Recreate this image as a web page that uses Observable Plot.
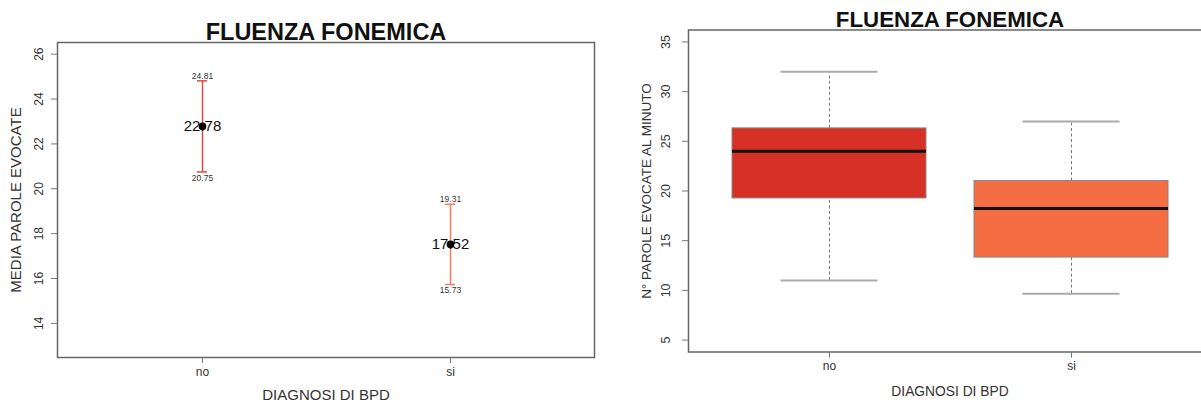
<!DOCTYPE html>
<html>
<head>
<meta charset="utf-8">
<script src="https://cdn.jsdelivr.net/npm/d3@7"></script>
<script src="https://cdn.jsdelivr.net/npm/@observablehq/plot@0.6"></script>
<style>
  html, body { margin: 0; padding: 0; background: #fff; }
  #wrap { display: flex; width: 1201px; height: 403px; overflow: hidden; }
  #left { width: 600px; height: 403px; flex: none; }
  #right { width: 601px; height: 403px; overflow: hidden; flex: none; }
  svg { display: block; max-width: none !important; }
</style>
</head>
<body>
<div id="wrap"><div id="left"></div><div id="right"></div></div>
<script>
// ---- data ----
const title = "FLUENZA FONEMICA";
const xTitle = "DIAGNOSI DI BPD";
const yTitleMeans = "MEDIA PAROLE EVOCATE";
const yTitleBox = "N° PAROLE EVOCATE AL MINUTO";
const categories = ["no", "si"];
// left: means with confidence interval
const means = [22.78, 17.52];
const lowerCI = [20.75, 15.73];
const upperCI = [24.81, 19.31];
const meanTicks = [14, 16, 18, 20, 22, 24, 26];
// right: boxplot stats
const boxMin = [11, 9.67];
const boxQ1 = [19.25, 13.3];
const boxMedian = [24, 18.25];
const boxQ3 = [26.3, 21];
const boxMax = [32, 27];
const boxTicks = [5, 10, 15, 20, 25, 30, 35];
const boxColors = ["#d73027", "#f46d43"];
const barColors = ["#e4483e", "#f47d5a"];

const fmt = d3.format(".2f");
const meanData = categories.map((c, i) => ({cat: c, mean: means[i], lo: lowerCI[i], hi: upperCI[i], col: barColors[i]}));
const boxData = categories.map((c, i) => ({cat: c, min: boxMin[i], q1: boxQ1[i], med: boxMedian[i], q3: boxQ3[i], max: boxMax[i], col: boxColors[i]}));
const font = "'Liberation Sans', Arial, Helvetica, sans-serif";

// ---- left panel ----
const left = Plot.plot({
  width: 600, height: 403,
  marginLeft: 57, marginRight: 6, marginTop: 42, marginBottom: 46,
  style: {fontFamily: font, background: "#fff", overflow: "visible", maxWidth: "none"},
  x: {type: "band", domain: categories, paddingInner: 0.96, paddingOuter: 0.56, axis: null},
  y: {domain: [12.48, 26.52], axis: null},
  marks: [
    Plot.frame({stroke: "#666", strokeWidth: 1.5}),
    Plot.axisY({ticks: meanTicks, tickSize: 6, tickRotate: -90, tickPadding: 9, fontSize: 12, stroke: "#777", fill: "#333", label: null}),
    Plot.axisX({tickSize: 6, tickPadding: 4, fontSize: 12, stroke: "#777", fill: "#333", label: null}),
    Plot.ruleX(meanData, {x: "cat", y1: "lo", y2: "hi", stroke: "col", strokeWidth: 1.5}),
    Plot.tickY(meanData, {x: "cat", y: "hi", stroke: "col", strokeWidth: 1.5}),
    Plot.tickY(meanData, {x: "cat", y: "lo", stroke: "col", strokeWidth: 1.5}),
    Plot.text(meanData, {x: "cat", y: "hi", text: d => fmt(d.hi), lineAnchor: "bottom", dy: -2, fontSize: 8.5, fill: "#333"}),
    Plot.text(meanData, {x: "cat", y: "lo", text: d => fmt(d.lo), lineAnchor: "top", dy: 2.5, fontSize: 8.5, fill: "#333"}),
    Plot.text(meanData, {x: "cat", y: "mean", text: d => fmt(d.mean), fontSize: 15, fill: "#111"}),
    Plot.dot(meanData, {x: "cat", y: "mean", r: 3.8, fill: "#000"}),
    Plot.text([title], {frameAnchor: "top", lineAnchor: "bottom", dy: -2.5, fontSize: 23.5, fontWeight: "bold", fill: "#111"}),
    Plot.text([xTitle], {frameAnchor: "bottom", lineAnchor: "middle", dy: 38, fontSize: 15, fill: "#333"}),
    Plot.text([yTitleMeans], {frameAnchor: "left", textAnchor: "middle", rotate: -90, lineAnchor: "middle", dx: -41, fontSize: 15, fill: "#333"})
  ]
});
document.getElementById("left").appendChild(left);

// ---- right panel ----
const right = Plot.plot({
  width: 611, height: 403,
  marginLeft: 88, marginRight: 0, marginTop: 29.5, marginBottom: 51.5,
  style: {fontFamily: font, background: "#fff", overflow: "visible", maxWidth: "none"},
  x: {type: "band", domain: categories, paddingInner: 0.2, paddingOuter: 0.18, axis: null},
  y: {domain: [3.8, 36.2], axis: null},
  marks: [
    Plot.frame({stroke: "#666", strokeWidth: 1.5}),
    Plot.axisY({ticks: boxTicks, tickSize: 6, tickRotate: -90, tickPadding: 13, fontSize: 12.5, stroke: "#777", fill: "#333", label: null}),
    Plot.axisX({tickSize: 6, tickPadding: 3.5, fontSize: 12, stroke: "#777", fill: "#333", label: null}),
    Plot.ruleX(boxData, {x: "cat", y1: "min", y2: "q1", stroke: "#777", strokeDasharray: "3,2.5", strokeWidth: 1}),
    Plot.ruleX(boxData, {x: "cat", y1: "q3", y2: "max", stroke: "#777", strokeDasharray: "3,2.5", strokeWidth: 1}),
    Plot.tickY(boxData, {x: "cat", y: "max", stroke: "#aaa", strokeWidth: 2, insetLeft: 48.5, insetRight: 48.5}),
    Plot.tickY(boxData, {x: "cat", y: "min", stroke: "#aaa", strokeWidth: 2, insetLeft: 48.5, insetRight: 48.5}),
    Plot.barY(boxData, {x: "cat", y1: "q1", y2: "q3", fill: "col", stroke: "#888", strokeWidth: 1}),
    Plot.tickY(boxData, {x: "cat", y: "med", stroke: "#111", strokeWidth: 3}),
    Plot.text([title], {frameAnchor: "top", lineAnchor: "bottom", dy: -3.5, fontSize: 22.3, fontWeight: "bold", fill: "#111"}),
    Plot.text([xTitle], {frameAnchor: "bottom", lineAnchor: "middle", dy: 40, fontSize: 13.8, fill: "#333"}),
    Plot.text([yTitleBox], {frameAnchor: "left", textAnchor: "middle", rotate: -90, lineAnchor: "middle", dx: -42, fontSize: 13.5, fill: "#333"})
  ]
});
document.getElementById("right").appendChild(right);
</script>
</body>
</html>
